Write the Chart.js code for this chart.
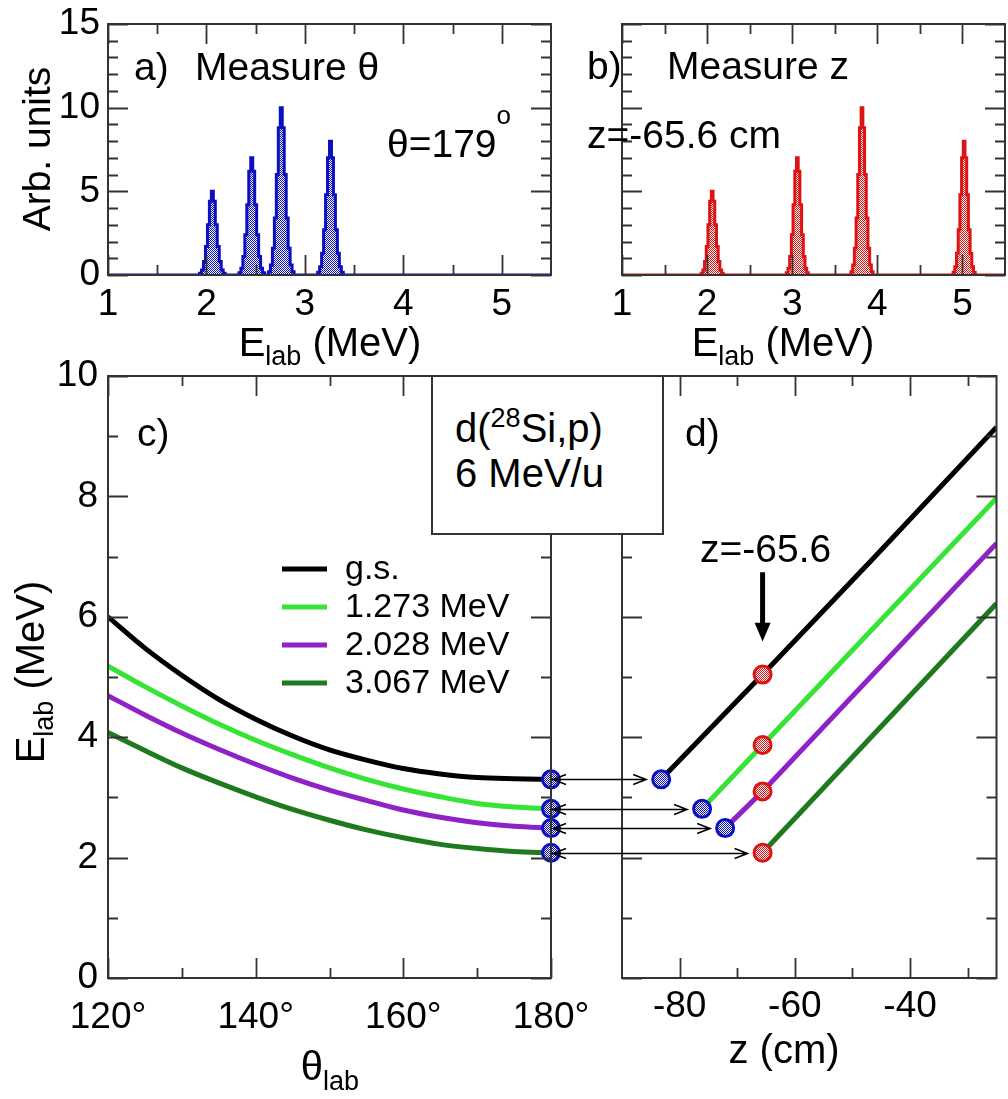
<!DOCTYPE html>
<html>
<head>
<meta charset="utf-8">
<script src="https://cdn.jsdelivr.net/npm/chart.js@4.4.0/dist/chart.umd.min.js"></script>
<style>
  html, body { margin: 0; padding: 0; background: #fff; }
  #page { position: relative; width: 1008px; height: 1099px; overflow: hidden; }
  #page canvas { position: absolute; left: 0; top: 0; }
  #reaction {
    position: absolute; left: 431px; top: 375px; width: 229px; height: 156px;
    border: 2px solid #333; background: #fff; z-index: 5;
    font-family: 'Liberation Sans', Arial, sans-serif; font-size: 40px; color: #000;
  }
  #reaction .line { position: absolute; left: 22px; line-height: 40px; white-space: nowrap; }
  #reaction .sup { font-size: 27px; position: relative; top: -15px; }
</style>
</head>
<body>
<div id="page">
  <canvas id="panelA" width="1008" height="1099"></canvas>
  <canvas id="panelB" width="1008" height="1099"></canvas>
  <canvas id="panelC" width="1008" height="1099"></canvas>
  <canvas id="panelD" width="1008" height="1099"></canvas>
  <div id="reaction">
    <div class="line" style="top:31px">d(<span class="sup">28</span>Si,p)</div>
    <div class="line" style="top:76px">6 MeV/u</div>
  </div>
</div>
<script>
// a) spectrum measured at theta = 179 deg
const energyA = [
  1.00,
  1.92, 1.94, 1.96, 1.98, 2.00, 2.02, 2.04, 2.06, 2.08, 2.10, 2.12, 2.14, 2.16, 2.18, 2.20,
  2.32, 2.34, 2.36, 2.38, 2.40, 2.42, 2.44, 2.46, 2.48, 2.50, 2.52, 2.54, 2.56, 2.58, 2.60,
  2.62, 2.64, 2.66, 2.68, 2.70, 2.72, 2.74, 2.76, 2.78, 2.80, 2.82, 2.84, 2.86, 2.88, 2.90,
  3.12, 3.14, 3.16, 3.18, 3.20, 3.22, 3.24, 3.26, 3.28, 3.30, 3.32, 3.34, 3.36, 3.38, 3.40,
  5.50
];
const countsA = [
  0,
  0, 0.1, 0.3, 0.8, 1.7, 3.0, 4.4, 5.0, 4.4, 3.0, 1.7, 0.8, 0.3, 0.1, 0,
  0, 0.14, 0.4, 1.1, 2.4, 4.2, 6.2, 7.0, 6.2, 4.2, 2.4, 1.1, 0.4, 0.14, 0,
  0, 0.2, 0.6, 1.6, 3.4, 6.0, 8.8, 10.0, 8.8, 6.0, 3.4, 1.6, 0.6, 0.2, 0,
  0, 0.16, 0.5, 1.3, 2.7, 4.8, 7.0, 8.0, 7.0, 4.8, 2.7, 1.3, 0.5, 0.16, 0,
  0
];

// b) spectrum measured at z = -65.6 cm
const energyB = [
  1.00,
  1.92, 1.94, 1.96, 1.98, 2.00, 2.02, 2.04, 2.06, 2.08, 2.10, 2.12, 2.14, 2.16, 2.18, 2.20,
  2.92, 2.94, 2.96, 2.98, 3.00, 3.02, 3.04, 3.06, 3.08, 3.10, 3.12, 3.14, 3.16, 3.18, 3.20,
  3.68, 3.70, 3.72, 3.74, 3.76, 3.78, 3.80, 3.82, 3.84, 3.86, 3.88, 3.90, 3.92, 3.94, 3.96,
  4.88, 4.90, 4.92, 4.94, 4.96, 4.98, 5.00, 5.02, 5.04, 5.06, 5.08, 5.10, 5.12, 5.14, 5.16,
  5.50
];
const countsB = [
  0,
  0, 0.1, 0.3, 0.8, 1.7, 3.0, 4.4, 5.0, 4.4, 3.0, 1.7, 0.8, 0.3, 0.1, 0,
  0, 0.14, 0.4, 1.1, 2.4, 4.2, 6.2, 7.0, 6.2, 4.2, 2.4, 1.1, 0.4, 0.14, 0,
  0, 0.2, 0.6, 1.6, 3.4, 6.0, 8.8, 10.0, 8.8, 6.0, 3.4, 1.6, 0.6, 0.2, 0,
  0, 0.16, 0.5, 1.3, 2.7, 4.8, 7.0, 8.0, 7.0, 4.8, 2.7, 1.3, 0.5, 0.16, 0,
  0
];

// c) E_lab vs theta_lab
const stateLabels = ['g.s.', '1.273 MeV', '2.028 MeV', '3.067 MeV'];
const stateColors = ['#000000', '#36e436', '#8e22c6', '#1f7a1f'];
const thetaLab   = [120, 125, 130, 135, 140, 145, 150, 155, 160, 165, 170, 175, 180];
const eThetaGs   = [6.00, 5.48, 5.03, 4.63, 4.30, 4.02, 3.79, 3.62, 3.48, 3.39, 3.33, 3.31, 3.30];
const eTheta1273 = [5.18, 4.84, 4.52, 4.22, 3.95, 3.71, 3.49, 3.30, 3.14, 3.01, 2.90, 2.84, 2.81];
const eTheta2028 = [4.69, 4.37, 4.07, 3.80, 3.55, 3.32, 3.12, 2.95, 2.79, 2.67, 2.58, 2.52, 2.49];
const eTheta3067 = [4.08, 3.78, 3.49, 3.24, 3.01, 2.80, 2.62, 2.46, 2.33, 2.22, 2.15, 2.10, 2.08];

// d) E_lab vs z
const zGs    = [-83.2, -65.6, -46.4, -25];
const eZGs   = [3.30, 5.04, 6.97, 9.15];
const z1273  = [-76.1, -65.6, -25];
const eZ1273 = [2.81, 3.87, 7.97];
const z2028  = [-72.1, -65.6, -25];
const eZ2028 = [2.49, 3.10, 7.22];
const z3067  = [-65.6, -25];
const eZ3067 = [2.08, 6.22];
const zMeasure = -65.6;

// tick values
const spectrumXMajor = [1, 2, 3, 4, 5];
const spectrumXMinor = [1.5, 2.5, 3.5, 4.5];
const spectrumYMajor = [0, 5, 10, 15];
const spectrumYMinor = [1, 2, 3, 4, 6, 7, 8, 9, 11, 12, 13, 14];
const thetaMajor = [120, 140, 160, 180];
const thetaMinor = [130, 150, 170];
const zMajor = [-80, -60, -40];
const zMinor = [-70, -50, -30];
const energyMajor = [0, 2, 4, 6, 8, 10];
const energyMinor = [1, 3, 5, 7, 9];

const FAMILY = "'Liberation Sans', Arial, sans-serif";
const fontPx = s => s + 'px ' + FAMILY;

function dotPattern(color) {
  const c = document.createElement('canvas');
  c.width = 2; c.height = 2;
  const g = c.getContext('2d');
  g.fillStyle = color; g.fillRect(0, 0, 2, 2);
  g.fillStyle = '#ffffff'; g.fillRect(1, 0, 1, 1); g.fillRect(0, 1, 1, 1);
  return g.createPattern(c, 'repeat');
}
const blue = '#0c10c0';
const red = '#dc1414';
const bluePattern = dotPattern(blue);
const redPattern = dotPattern(red);

const pts = (xs, ys) => xs.map((x, i) => ({ x: x, y: ys[i] }));

function drawRich(ctx, parts, x, y, align) {
  let w = 0;
  parts.forEach(p => { ctx.font = fontPx(p[1]); w += ctx.measureText(p[0]).width; });
  let cx = align === 'center' ? x - w / 2 : x;
  parts.forEach(p => {
    ctx.font = fontPx(p[1]);
    ctx.fillText(p[0], cx, y + (p[2] || 0));
    cx += ctx.measureText(p[0]).width;
  });
}

// frame with inward ticks on all four sides
function makeFrame(xMajor, xMinor, yMajor, yMinor) {
  return {
    id: 'frame',
    afterDatasetsDraw(chart) {
      const ctx = chart.ctx;
      const a = chart.chartArea;
      const xs = chart.scales.x, ys = chart.scales.y;
      ctx.save();
      ctx.strokeStyle = '#333';
      ctx.lineWidth = 2;
      ctx.strokeRect(a.left, a.top, a.right - a.left, a.bottom - a.top);
      ctx.lineWidth = 1.8;
      const xt = (vals, len) => vals.forEach(v => {
        const p = Math.round(xs.getPixelForValue(v)) + 0.5;
        ctx.beginPath();
        ctx.moveTo(p, a.bottom); ctx.lineTo(p, a.bottom - len);
        ctx.moveTo(p, a.top); ctx.lineTo(p, a.top + len);
        ctx.stroke();
      });
      const yt = (vals, len) => vals.forEach(v => {
        const p = Math.round(ys.getPixelForValue(v)) + 0.5;
        ctx.beginPath();
        ctx.moveTo(a.left, p); ctx.lineTo(a.left + len, p);
        ctx.moveTo(a.right, p); ctx.lineTo(a.right - len, p);
        ctx.stroke();
      });
      xt(xMajor, 20); xt(xMinor, 10);
      yt(yMajor, 20); yt(yMinor, 10);
      ctx.restore();
    }
  };
}

function makeNotes(items) {
  return {
    id: 'notes',
    afterDraw(chart) {
      const ctx = chart.ctx;
      ctx.save();
      ctx.fillStyle = '#000';
      ctx.textAlign = 'left';
      ctx.textBaseline = 'alphabetic';
      items.forEach(it => {
        ctx.save();
        ctx.translate(it.x, it.y);
        if (it.rotate) ctx.rotate(it.rotate);
        drawRich(ctx, it.parts, 0, 0, it.align);
        ctx.restore();
      });
      ctx.restore();
    }
  };
}

const legendPlugin = {
  id: 'stateLegend',
  afterDraw(chart) {
    const ctx = chart.ctx;
    const left = 282, top = 569, step = 38;
    ctx.save();
    stateLabels.forEach((lab, i) => {
      const y = top + i * step;
      ctx.strokeStyle = stateColors[i];
      ctx.lineWidth = 5;
      ctx.beginPath(); ctx.moveTo(left, y); ctx.lineTo(left + 45, y); ctx.stroke();
      ctx.fillStyle = '#000';
      ctx.font = fontPx(34);
      ctx.textBaseline = 'middle';
      ctx.fillText(lab, left + 63, y + 1);
    });
    ctx.restore();
  }
};

function axisSetup(min, max, major, labelFmt, pad, fit) {
  return {
    type: 'linear', min: min, max: max,
    grid: { display: false, drawTicks: false },
    border: { display: false },
    afterBuildTicks: ax => { ax.ticks = major.map(v => ({ value: v })); },
    afterFit: fit,
    ticks: {
      color: '#000', padding: pad, autoSkip: false, maxRotation: 0,
      font: { family: FAMILY, size: 37 },
      callback: labelFmt
    }
  };
}
const fitX = s => { s.height = 60; s.paddingLeft = 0; s.paddingRight = 0; };
const fitY = s => { s.width = 60; s.paddingTop = 0; s.paddingBottom = 0; };
const plain = v => String(v);

function baseOptions(padding, scales) {
  return {
    responsive: false,
    animation: false,
    events: [],
    layout: { padding: padding },
    scales: scales,
    plugins: { legend: { display: false }, tooltip: { enabled: false } }
  };
}

// a) Measure theta
new Chart(document.getElementById('panelA'), {
  type: 'line',
  data: { datasets: [{
    data: pts(energyA, countsA), stepped: 'middle', fill: 'origin',
    borderColor: blue, borderWidth: 3, backgroundColor: bluePattern, pointRadius: 0
  }] },
  options: baseOptions({ left: 48, right: 457, top: 24, bottom: 764 }, {
    x: axisSetup(1, 5.5, spectrumXMajor, plain, 8, fitX),
    y: axisSetup(0, 15, spectrumYMajor, plain, 8, fitY)
  }),
  plugins: [
    makeFrame(spectrumXMajor, spectrumXMinor, spectrumYMajor, spectrumYMinor),
    makeNotes([
      { x: 50, y: 149, rotate: -Math.PI / 2, align: 'center', parts: [['Arb. units', 39]] },
      { x: 330, y: 356, align: 'center', parts: [['E', 40], ['lab', 27, 9], [' (MeV)', 40]] },
      { x: 134, y: 80, parts: [['a)', 39]] },
      { x: 195, y: 80, parts: [['Measure \u03b8', 39]] },
      { x: 387, y: 157, parts: [['\u03b8=179', 39], ['o', 26, -33]] }
    ])
  ]
});

// b) Measure z
new Chart(document.getElementById('panelB'), {
  type: 'line',
  data: { datasets: [{
    data: pts(energyB, countsB), stepped: 'middle', fill: 'origin',
    borderColor: red, borderWidth: 3, backgroundColor: redPattern, pointRadius: 0
  }] },
  options: baseOptions({ left: 562, right: 3, top: 24, bottom: 764 }, {
    x: axisSetup(1, 5.5, spectrumXMajor, plain, 8, fitX),
    y: Object.assign(axisSetup(0, 15, spectrumYMajor, plain, 8, fitY), { display: false })
  }),
  plugins: [
    makeFrame(spectrumXMajor, spectrumXMinor, spectrumYMajor, spectrumYMinor),
    makeNotes([
      { x: 783, y: 356, align: 'center', parts: [['E', 40], ['lab', 27, 9], [' (MeV)', 40]] },
      { x: 587, y: 79, parts: [['b)', 39]] },
      { x: 667, y: 79, parts: [['Measure z', 39]] },
      { x: 587, y: 148, parts: [['z=-65.6 cm', 39]] }
    ])
  ]
});

const curveSeries = [eThetaGs, eTheta1273, eTheta2028, eTheta3067];
const zSeries = [[zGs, eZGs], [z1273, eZ1273], [z2028, eZ2028], [z3067, eZ3067]];

function markerSet(points, fill, color) {
  return {
    type: 'scatter', data: points, showLine: false, clip: false, order: 0,
    pointRadius: 8.5, pointBorderWidth: 3, pointBorderColor: color, pointBackgroundColor: fill
  };
}

// c) E_lab vs theta_lab
const chartC = new Chart(document.getElementById('panelC'), {
  type: 'line',
  data: { datasets: [
    markerSet(curveSeries.map(s => ({ x: thetaLab[thetaLab.length - 1], y: s[s.length - 1] })), bluePattern, blue)
  ].concat(curveSeries.map((s, i) => ({
    data: pts(thetaLab, s), borderColor: stateColors[i], borderWidth: 5, pointRadius: 0,
    cubicInterpolationMode: 'monotone', order: 1
  }))) },
  options: baseOptions({ left: 48, right: 457, top: 376, bottom: 61 }, {
    x: axisSetup(120, 180, thetaMajor, v => v + '\u00b0', 18, fitX),
    y: axisSetup(0, 10, energyMajor, plain, 10, fitY)
  }),
  plugins: [
    makeFrame(thetaMajor, thetaMinor, energyMajor, energyMinor),
    legendPlugin,
    makeNotes([
      { x: 44, y: 672, rotate: -Math.PI / 2, align: 'center', parts: [['E', 40], ['lab', 27, 9], [' (MeV)', 40]] },
      { x: 330, y: 1080, align: 'center', parts: [['\u03b8', 40], ['lab', 27, 10]] },
      { x: 137, y: 446, parts: [['c)', 39]] }
    ])
  ]
});

// arrows linking the theta = 180 points with the start of each z line
const arrowPlugin = {
  id: 'linkArrows',
  afterDraw(chart) {
    const ctx = chart.ctx;
    const xs = chart.scales.x, ys = chart.scales.y;
    const xLeft = chartC.scales.x.getPixelForValue(thetaLab[thetaLab.length - 1]) + 2;
    ctx.save();
    ctx.strokeStyle = '#000';
    ctx.fillStyle = '#000';
    ctx.lineWidth = 1.5;
    curveSeries.forEach((s, i) => {
      const y = Math.round(ys.getPixelForValue(s[s.length - 1])) + 0.5;
      const xRight = xs.getPixelForValue(zSeries[i][0][0]) - 15;
      ctx.beginPath();
      ctx.moveTo(xLeft, y); ctx.lineTo(xRight, y);
      ctx.moveTo(xLeft + 13, y - 5); ctx.lineTo(xLeft, y); ctx.lineTo(xLeft + 13, y + 5);
      ctx.moveTo(xRight - 13, y - 5); ctx.lineTo(xRight, y); ctx.lineTo(xRight - 13, y + 5);
      ctx.stroke();
    });
    // thick arrow marking the measured z
    const xm = xs.getPixelForValue(zMeasure);
    const y0 = ys.getPixelForValue(6.74), y1 = ys.getPixelForValue(5.9), y2 = ys.getPixelForValue(5.59);
    ctx.lineWidth = 5;
    ctx.beginPath(); ctx.moveTo(xm, y0); ctx.lineTo(xm, y1 + 2); ctx.stroke();
    ctx.beginPath(); ctx.moveTo(xm - 8, y1); ctx.lineTo(xm + 8, y1); ctx.lineTo(xm, y2); ctx.closePath(); ctx.fill();
    ctx.restore();
  }
};

// d) E_lab vs z
new Chart(document.getElementById('panelD'), {
  type: 'line',
  data: { datasets: [
    markerSet(zSeries.map(s => ({ x: zMeasure, y: s[1][s[0].indexOf(zMeasure)] })), redPattern, red),
    markerSet(zSeries.slice(0, 3).map(s => ({ x: s[0][0], y: s[1][0] })), bluePattern, blue)
  ].concat(zSeries.map((s, i) => ({
    data: pts(s[0], s[1]), borderColor: stateColors[i], borderWidth: 5, pointRadius: 0, order: 1
  }))) },
  options: baseOptions({ left: 562, right: 3, top: 376, bottom: 61 }, {
    x: axisSetup(-90, -25, zMajor, plain, 7, fitX),
    y: Object.assign(axisSetup(0, 10, energyMajor, plain, 10, fitY), { display: false })
  }),
  plugins: [
    makeFrame(zMajor, zMinor, energyMajor, energyMinor),
    arrowPlugin,
    makeNotes([
      { x: 784, y: 1063, align: 'center', parts: [['z (cm)', 40]] },
      { x: 685, y: 446, parts: [['d)', 39]] },
      { x: 700, y: 562, parts: [['z=-65.6', 39]] }
    ])
  ]
});
</script>
</body>
</html>
